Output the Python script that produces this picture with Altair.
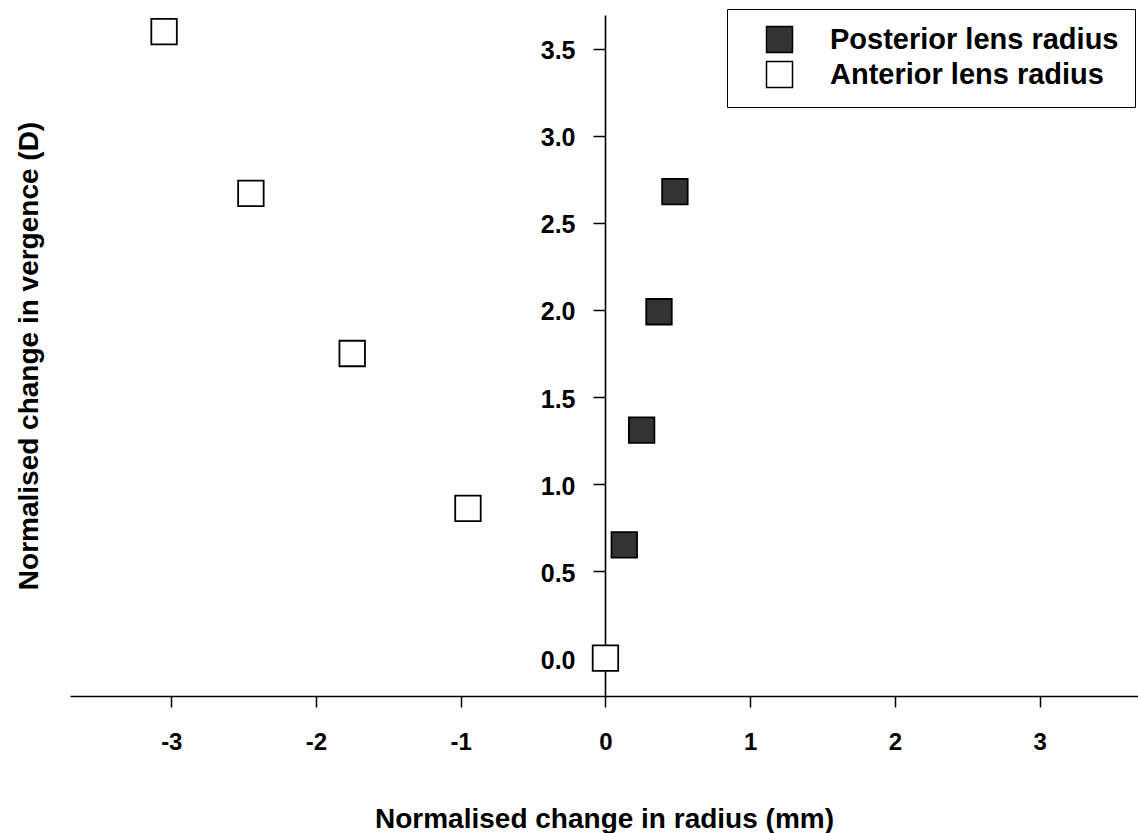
import altair as alt
import pandas as pd

# Lens radius change vs. vergence change, normalised to the relaxed state
series_names = ["Posterior lens radius", "Anterior lens radius"]
series_fills = ["#333333", "#ffffff"]

posterior_radius = [0.13, 0.25, 0.37, 0.48]
posterior_vergence = [0.65, 1.31, 1.99, 2.68]

anterior_radius = [0.0, -0.95, -1.75, -2.45, -3.05]
anterior_vergence = [0.0, 0.86, 1.75, 2.67, 3.60]

x_ticks = [-3, -2, -1, 0, 1, 2, 3]
y_ticks = [0.0, 0.5, 1.0, 1.5, 2.0, 2.5, 3.0, 3.5]

rows = (
    [{"radius": r, "vergence": v, "series": series_names[0]}
     for r, v in zip(posterior_radius, posterior_vergence)]
    + [{"radius": r, "vergence": v, "series": series_names[1]}
       for r, v in zip(anterior_radius, anterior_vergence)]
)
df = pd.DataFrame(rows)

FONT = "Liberation Sans"

x_axis = alt.Axis(
    values=x_ticks,
    labelExpr="'' + datum.value",  # plain hyphen for negatives
    title="Normalised change in radius (mm)",
    grid=False,
    domainColor="black",
    domainWidth=1.6,
    tickColor="black",
    tickWidth=1.5,
    tickSize=11,
    labelFont=FONT,
    labelFontSize=24,
    labelFontWeight="bold",
    labelColor="black",
    labelPadding=23,
    titleFont=FONT,
    titleFontSize=28,
    titleFontWeight="bold",
    titleColor="black",
    titleBaseline="alphabetic",
    titleY=131,
)

y_axis = alt.Axis(
    values=y_ticks,
    format=".1f",
    title="Normalised change in vergence (D)",
    offset=-535,
    grid=False,
    domainColor="black",
    domainWidth=1.6,
    tickColor="black",
    tickWidth=1.5,
    tickSize=12,
    labelFont=FONT,
    labelFontSize=25,
    labelFontWeight="bold",
    labelColor="black",
    labelPadding=18,
    labelOffset=2,
    titleFont=FONT,
    titleFontSize=28,
    titleFontWeight="bold",
    titleColor="black",
    titleBaseline="alphabetic",
    titleAngle=270,
    titleX=-568,
)

legend = alt.Legend(
    title=None,
    orient="none",
    legendX=657,
    legendY=-6,
    strokeColor="black",
    padding=16,
    symbolType="square",
    symbolSize=676,
    symbolStrokeColor="black",
    symbolStrokeWidth=1.5,
    symbolOffset=22,
    labelOffset=36,
    labelLimit=500,
    labelFont=FONT,
    labelFontSize=29,
    labelFontWeight="bold",
    labelColor="black",
    rowPadding=2,
)

chart = (
    alt.Chart(df)
    .mark_square(size=650, stroke="black", strokeWidth=1.8, opacity=1)
    .encode(
        x=alt.X("radius:Q",
                scale=alt.Scale(domain=[-3.7, 3.68], nice=False, zero=False),
                axis=x_axis),
        y=alt.Y("vergence:Q",
                scale=alt.Scale(domain=[-0.218, 3.695], nice=False, zero=False),
                axis=y_axis),
        fill=alt.Fill("series:N",
                      scale=alt.Scale(domain=series_names, range=series_fills),
                      legend=legend),
    )
    .properties(
        width=1068,
        height=681,
        autosize=alt.AutoSizeParams(type="none"),
        padding={"left": 70, "top": 15, "right": 0, "bottom": 137},
        background="white",
    )
    .configure_view(stroke=None)
)

chart.save("out.html", embed_options={"renderer": "svg", "actions": False})
